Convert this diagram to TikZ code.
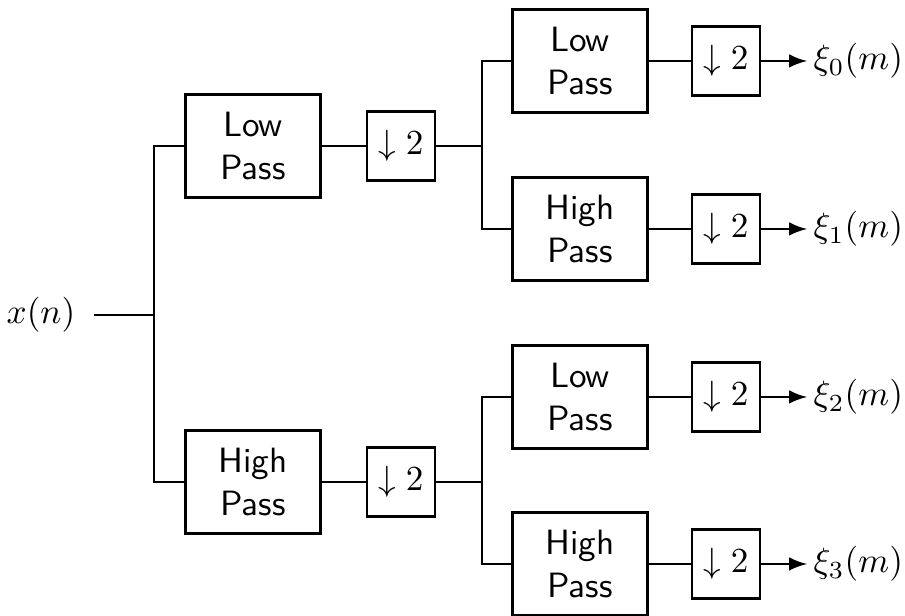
\documentclass[tikz,border=0pt]{standalone}
\usepackage{tikz}

\begin{document}
\begin{tikzpicture}[line width=0.75pt]
					\useasboundingbox (0,0) rectangle (9.05,6.16);
					\tikzstyle{every node}=[];
					\tikzstyle{filt}=[draw,font=\sffamily,align=center,minimum width=1.35cm,minimum height=1.03cm,inner sep=0pt];
					\tikzstyle{down}=[draw,minimum width=0.68cm,minimum height=0.69cm,inner sep=0pt];
					\path (0.41,3.01) node[inner sep=5pt] (v0) {$x(n)$};
					\path (2.53,4.70) node[filt] (v1) {Low\\Pass};
					\path (2.53,1.34) node[filt] (v2) {High\\Pass};
					\path (4.01,4.70) node[down] (v3) {$\downarrow 2$};
					\path (4.01,1.34) node[down] (v4) {$\downarrow 2$};
					\path (5.80,5.55) node[filt] (v5) {Low\\Pass};
					\path (5.80,3.87) node[filt] (v6) {High\\Pass};
					\path (5.80,2.19) node[filt] (v7) {Low\\Pass};
					\path (5.80,0.52) node[filt] (v8) {High\\Pass};
					\path (7.26,5.55) node[down] (v9) {$\downarrow 2$};
					\path (7.26,3.87) node[down] (v10) {$\downarrow 2$};
					\path (7.26,2.19) node[down] (v11) {$\downarrow 2$};
					\path (7.26,0.52) node[down] (v12) {$\downarrow 2$};
					\path (8.07,5.55) node[anchor=west,inner sep=1.5pt] (v13) {$\xi_0(m)$};
					\path (8.07,3.87) node[anchor=west,inner sep=1.5pt] (v14) {$\xi_1(m)$};
					\path (8.07,2.19) node[anchor=west,inner sep=1.5pt] (v15) {$\xi_2(m)$};
					\path (8.07,0.52) node[anchor=west,inner sep=1.5pt] (v16) {$\xi_3(m)$};
					\coordinate (j0) at (1.54,3.01);
					\coordinate (j1) at (4.82,4.70);
					\coordinate (j2) at (4.82,1.34);
					\draw (v0) -- (j0);
					\draw (v1.west) -| (j0) |- (v2.west);
					\draw (v1) -- (v3) -- (j1);
					\draw (v2) -- (v4) -- (j2);
					\draw (v5.west) -| (j1) |- (v6.west);
					\draw (v7.west) -| (j2) |- (v8.west);
					\draw (v5) -- (v9);
					\draw (v6) -- (v10);
					\draw (v7) -- (v11);
					\draw (v8) -- (v12);
					\draw[-latex] (v9) -- (v13);
					\draw[-latex] (v10) -- (v14);
					\draw[-latex] (v11) -- (v15);
					\draw[-latex] (v12) -- (v16);
\end{tikzpicture}
\end{document}
